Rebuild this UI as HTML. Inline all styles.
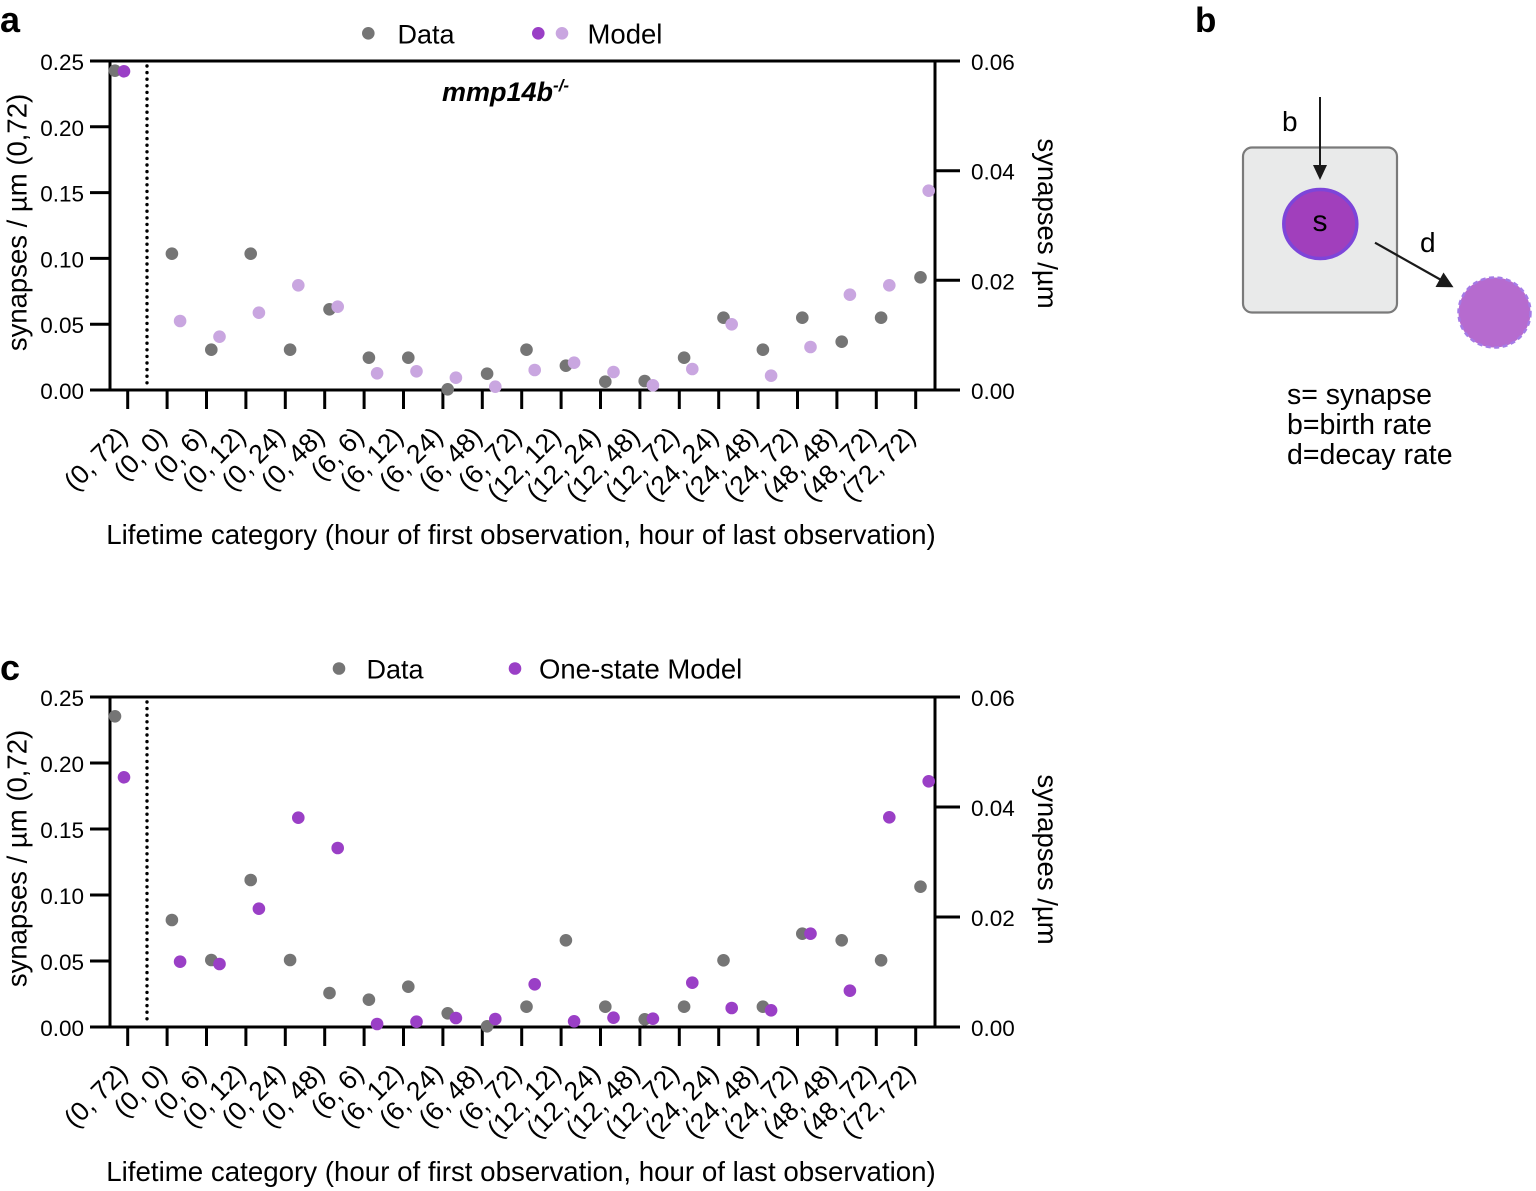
<!DOCTYPE html>
<html>
<head>
<meta charset="utf-8">
<style>
html,body{margin:0;padding:0;background:#fff;}
svg{display:block;}
text{font-family:"Liberation Sans",Arial,sans-serif;fill:#000;}
</style>
</head>
<body>
<svg width="1536" height="1191" viewBox="0 0 1536 1191" xmlns="http://www.w3.org/2000/svg">
<rect width="1536" height="1191" fill="#fff"/>

<!-- ===== Panel a ===== -->
<text x="0" y="32" font-size="36" font-weight="bold">a</text>
<!-- legend -->
<circle cx="368.3" cy="33.3" r="6.3" fill="#757575"/>
<text x="397.5" y="43.3" font-size="27">Data</text>
<circle cx="538.3" cy="33.3" r="6.3" fill="#9a3fc6"/>
<circle cx="562" cy="33.3" r="6.3" fill="#c9a6e0"/>
<text x="587.5" y="43.3" font-size="27.5">Model</text>

<g stroke="#000" stroke-width="3" fill="none">
  <line x1="90" y1="61" x2="960" y2="61"/>
  <line x1="90" y1="390" x2="960" y2="390"/>
  <line x1="110" y1="59.5" x2="110" y2="391.5"/>
  <line x1="935" y1="59.5" x2="935" y2="391.5"/>
  <line x1="90" y1="126.8" x2="110" y2="126.8"/>
  <line x1="90" y1="192.6" x2="110" y2="192.6"/>
  <line x1="90" y1="258.4" x2="110" y2="258.4"/>
  <line x1="90" y1="324.2" x2="110" y2="324.2"/>
  <line x1="935" y1="170.7" x2="960" y2="170.7"/>
  <line x1="935" y1="280.3" x2="960" y2="280.3"/>
  <line x1="127.7" y1="390" x2="127.7" y2="409"/>
  <line x1="167.1" y1="390" x2="167.1" y2="409"/>
  <line x1="206.5" y1="390" x2="206.5" y2="409"/>
  <line x1="245.9" y1="390" x2="245.9" y2="409"/>
  <line x1="285.3" y1="390" x2="285.3" y2="409"/>
  <line x1="324.7" y1="390" x2="324.7" y2="409"/>
  <line x1="364.1" y1="390" x2="364.1" y2="409"/>
  <line x1="403.5" y1="390" x2="403.5" y2="409"/>
  <line x1="442.9" y1="390" x2="442.9" y2="409"/>
  <line x1="482.3" y1="390" x2="482.3" y2="409"/>
  <line x1="521.7" y1="390" x2="521.7" y2="409"/>
  <line x1="561.1" y1="390" x2="561.1" y2="409"/>
  <line x1="600.5" y1="390" x2="600.5" y2="409"/>
  <line x1="639.9" y1="390" x2="639.9" y2="409"/>
  <line x1="679.3" y1="390" x2="679.3" y2="409"/>
  <line x1="718.7" y1="390" x2="718.7" y2="409"/>
  <line x1="758.1" y1="390" x2="758.1" y2="409"/>
  <line x1="797.5" y1="390" x2="797.5" y2="409"/>
  <line x1="836.9" y1="390" x2="836.9" y2="409"/>
  <line x1="876.3" y1="390" x2="876.3" y2="409"/>
  <line x1="915.7" y1="390" x2="915.7" y2="409"/>
</g>
<line x1="147" y1="66" x2="147" y2="388" stroke="#000" stroke-width="3.4" stroke-linecap="round" stroke-dasharray="0 6.6"/>

<g font-size="22.5" text-anchor="end">
  <text x="84" y="70">0.25</text>
  <text x="84" y="135.8">0.20</text>
  <text x="84" y="201.6">0.15</text>
  <text x="84" y="267.4">0.10</text>
  <text x="84" y="333.2">0.05</text>
  <text x="84" y="399">0.00</text>
</g>
<g font-size="22.5">
  <text x="971" y="70">0.06</text>
  <text x="971" y="179.7">0.04</text>
  <text x="971" y="289.3">0.02</text>
  <text x="971" y="399">0.00</text>
</g>
<text x="442" y="101" font-size="27" font-weight="bold" font-style="italic">mmp14b<tspan font-size="17" dy="-10">-/-</tspan></text>

<text transform="translate(26.5,222.5) rotate(-90)" text-anchor="middle" font-size="27.5">synapses / µm (0,72)</text>
<text transform="translate(1038,223.5) rotate(90)" text-anchor="middle" font-size="27.5">synapses /µm</text>

<g font-size="26.5" text-anchor="end">
  <text transform="translate(129,438) rotate(-45)">(0, 72)</text>
  <text transform="translate(168.4,438) rotate(-45)">(0, 0)</text>
  <text transform="translate(207.8,438) rotate(-45)">(0, 6)</text>
  <text transform="translate(247.2,438) rotate(-45)">(0, 12)</text>
  <text transform="translate(286.6,438) rotate(-45)">(0, 24)</text>
  <text transform="translate(326,438) rotate(-45)">(0, 48)</text>
  <text transform="translate(365.4,438) rotate(-45)">(6, 6)</text>
  <text transform="translate(404.8,438) rotate(-45)">(6, 12)</text>
  <text transform="translate(444.2,438) rotate(-45)">(6, 24)</text>
  <text transform="translate(483.6,438) rotate(-45)">(6, 48)</text>
  <text transform="translate(523,438) rotate(-45)">(6, 72)</text>
  <text transform="translate(562.4,438) rotate(-45)">(12, 12)</text>
  <text transform="translate(601.8,438) rotate(-45)">(12, 24)</text>
  <text transform="translate(641.2,438) rotate(-45)">(12, 48)</text>
  <text transform="translate(680.6,438) rotate(-45)">(12, 72)</text>
  <text transform="translate(720,438) rotate(-45)">(24, 24)</text>
  <text transform="translate(759.4,438) rotate(-45)">(24, 48)</text>
  <text transform="translate(798.8,438) rotate(-45)">(24, 72)</text>
  <text transform="translate(838.2,438) rotate(-45)">(48, 48)</text>
  <text transform="translate(877.6,438) rotate(-45)">(48, 72)</text>
  <text transform="translate(917,438) rotate(-45)">(72, 72)</text>
</g>
<text x="521" y="544" font-size="27.7" text-anchor="middle">Lifetime category (hour of first observation, hour of last observation)</text>

<!-- data a -->
<g fill="#757575">
  <circle cx="115" cy="70.7" r="6.3"/>
  <circle cx="171.9" cy="253.7" r="6.3"/>
  <circle cx="211.3" cy="349.7" r="6.3"/>
  <circle cx="250.7" cy="253.7" r="6.3"/>
  <circle cx="290.1" cy="349.7" r="6.3"/>
  <circle cx="329.5" cy="309.3" r="6.3"/>
  <circle cx="368.9" cy="357.7" r="6.3"/>
  <circle cx="408.3" cy="357.7" r="6.3"/>
  <circle cx="447.7" cy="389.3" r="6.3"/>
  <circle cx="487.1" cy="373.7" r="6.3"/>
  <circle cx="526.5" cy="349.7" r="6.3"/>
  <circle cx="565.9" cy="365.7" r="6.3"/>
  <circle cx="605.3" cy="381.7" r="6.3"/>
  <circle cx="644.7" cy="381" r="6.3"/>
  <circle cx="684.1" cy="357.7" r="6.3"/>
  <circle cx="723.5" cy="317.7" r="6.3"/>
  <circle cx="762.9" cy="349.7" r="6.3"/>
  <circle cx="802.3" cy="317.7" r="6.3"/>
  <circle cx="841.7" cy="341.7" r="6.3"/>
  <circle cx="881.1" cy="317.7" r="6.3"/>
  <circle cx="920.5" cy="277.3" r="6.3"/>
</g>
<circle cx="124" cy="71.3" r="6.3" fill="#9a3fc6"/>
<g fill="#c9a6e0">
  <circle cx="180.1" cy="321" r="6.3"/>
  <circle cx="219.5" cy="336.7" r="6.3"/>
  <circle cx="258.9" cy="312.7" r="6.3"/>
  <circle cx="298.3" cy="285.3" r="6.3"/>
  <circle cx="337.7" cy="306.7" r="6.3"/>
  <circle cx="377.1" cy="373.3" r="6.3"/>
  <circle cx="416.5" cy="371.3" r="6.3"/>
  <circle cx="455.9" cy="377.7" r="6.3"/>
  <circle cx="495.3" cy="386.7" r="6.3"/>
  <circle cx="534.7" cy="370" r="6.3"/>
  <circle cx="574.1" cy="362.7" r="6.3"/>
  <circle cx="613.5" cy="372" r="6.3"/>
  <circle cx="652.9" cy="385.3" r="6.3"/>
  <circle cx="692.3" cy="369" r="6.3"/>
  <circle cx="731.7" cy="324.3" r="6.3"/>
  <circle cx="771.1" cy="375.7" r="6.3"/>
  <circle cx="810.5" cy="347" r="6.3"/>
  <circle cx="849.9" cy="294.7" r="6.3"/>
  <circle cx="889.3" cy="285.3" r="6.3"/>
  <circle cx="928.7" cy="190.7" r="6.3"/>
</g>

<!-- ===== Panel b ===== -->
<text x="1195" y="32" font-size="35" font-weight="bold">b</text>
<rect x="1243" y="147.5" width="154" height="165" rx="9" ry="9" fill="#e9eaea" stroke="#7a7a7a" stroke-width="2.2"/>
<line x1="1320" y1="97" x2="1320" y2="168" stroke="#1a1a1a" stroke-width="2"/>
<polygon points="1313,165 1327,165 1320,180" fill="#1a1a1a"/>
<text x="1282" y="131" font-size="28">b</text>
<ellipse cx="1320.3" cy="224" rx="36.5" ry="34.5" fill="#a13fbc" stroke="#7d45d9" stroke-width="3.5"/>
<text x="1320" y="231" font-size="30" text-anchor="middle">s</text>
<line x1="1375" y1="242.7" x2="1442" y2="280.5" stroke="#1a1a1a" stroke-width="2.2"/>
<polygon points="1453.5,287.2 1435.5,287 1443.5,272.5" fill="#1a1a1a"/>
<text x="1420" y="252" font-size="28">d</text>
<ellipse cx="1494.5" cy="312.5" rx="36" ry="35" fill="#b66bcf" stroke="#a57ae6" stroke-width="2.5" stroke-dasharray="5 3.5"/>
<g font-size="28.5">
  <text x="1287" y="404">s= synapse</text>
  <text x="1287" y="434">b=birth rate</text>
  <text x="1287" y="464">d=decay rate</text>
</g>

<!-- ===== Panel c ===== -->
<text x="0" y="680" font-size="36" font-weight="bold">c</text>
<circle cx="339" cy="668.5" r="6.3" fill="#757575"/>
<text x="366.5" y="678.5" font-size="27">Data</text>
<circle cx="515" cy="668.5" r="6.3" fill="#9a3fc6"/>
<text x="539" y="678.5" font-size="27.5">One-state Model</text>

<g stroke="#000" stroke-width="3" fill="none">
  <line x1="90" y1="697" x2="960" y2="697"/>
  <line x1="90" y1="1027" x2="960" y2="1027"/>
  <line x1="110" y1="695.5" x2="110" y2="1028.5"/>
  <line x1="935" y1="695.5" x2="935" y2="1028.5"/>
  <line x1="90" y1="763" x2="110" y2="763"/>
  <line x1="90" y1="829" x2="110" y2="829"/>
  <line x1="90" y1="895" x2="110" y2="895"/>
  <line x1="90" y1="961" x2="110" y2="961"/>
  <line x1="935" y1="807" x2="960" y2="807"/>
  <line x1="935" y1="917" x2="960" y2="917"/>
  <line x1="127.7" y1="1027" x2="127.7" y2="1046"/>
  <line x1="167.1" y1="1027" x2="167.1" y2="1046"/>
  <line x1="206.5" y1="1027" x2="206.5" y2="1046"/>
  <line x1="245.9" y1="1027" x2="245.9" y2="1046"/>
  <line x1="285.3" y1="1027" x2="285.3" y2="1046"/>
  <line x1="324.7" y1="1027" x2="324.7" y2="1046"/>
  <line x1="364.1" y1="1027" x2="364.1" y2="1046"/>
  <line x1="403.5" y1="1027" x2="403.5" y2="1046"/>
  <line x1="442.9" y1="1027" x2="442.9" y2="1046"/>
  <line x1="482.3" y1="1027" x2="482.3" y2="1046"/>
  <line x1="521.7" y1="1027" x2="521.7" y2="1046"/>
  <line x1="561.1" y1="1027" x2="561.1" y2="1046"/>
  <line x1="600.5" y1="1027" x2="600.5" y2="1046"/>
  <line x1="639.9" y1="1027" x2="639.9" y2="1046"/>
  <line x1="679.3" y1="1027" x2="679.3" y2="1046"/>
  <line x1="718.7" y1="1027" x2="718.7" y2="1046"/>
  <line x1="758.1" y1="1027" x2="758.1" y2="1046"/>
  <line x1="797.5" y1="1027" x2="797.5" y2="1046"/>
  <line x1="836.9" y1="1027" x2="836.9" y2="1046"/>
  <line x1="876.3" y1="1027" x2="876.3" y2="1046"/>
  <line x1="915.7" y1="1027" x2="915.7" y2="1046"/>
</g>
<line x1="147" y1="702" x2="147" y2="1025" stroke="#000" stroke-width="3.4" stroke-linecap="round" stroke-dasharray="0 6.6"/>

<g font-size="22.5" text-anchor="end">
  <text x="84" y="706">0.25</text>
  <text x="84" y="772">0.20</text>
  <text x="84" y="838">0.15</text>
  <text x="84" y="904">0.10</text>
  <text x="84" y="970">0.05</text>
  <text x="84" y="1036">0.00</text>
</g>
<g font-size="22.5">
  <text x="971" y="706">0.06</text>
  <text x="971" y="816">0.04</text>
  <text x="971" y="926">0.02</text>
  <text x="971" y="1036">0.00</text>
</g>

<text transform="translate(26.5,858.5) rotate(-90)" text-anchor="middle" font-size="27.5">synapses / µm (0,72)</text>
<text transform="translate(1038,859.5) rotate(90)" text-anchor="middle" font-size="27.5">synapses /µm</text>

<g font-size="26.5" text-anchor="end">
  <text transform="translate(129,1075) rotate(-45)">(0, 72)</text>
  <text transform="translate(168.4,1075) rotate(-45)">(0, 0)</text>
  <text transform="translate(207.8,1075) rotate(-45)">(0, 6)</text>
  <text transform="translate(247.2,1075) rotate(-45)">(0, 12)</text>
  <text transform="translate(286.6,1075) rotate(-45)">(0, 24)</text>
  <text transform="translate(326,1075) rotate(-45)">(0, 48)</text>
  <text transform="translate(365.4,1075) rotate(-45)">(6, 6)</text>
  <text transform="translate(404.8,1075) rotate(-45)">(6, 12)</text>
  <text transform="translate(444.2,1075) rotate(-45)">(6, 24)</text>
  <text transform="translate(483.6,1075) rotate(-45)">(6, 48)</text>
  <text transform="translate(523,1075) rotate(-45)">(6, 72)</text>
  <text transform="translate(562.4,1075) rotate(-45)">(12, 12)</text>
  <text transform="translate(601.8,1075) rotate(-45)">(12, 24)</text>
  <text transform="translate(641.2,1075) rotate(-45)">(12, 48)</text>
  <text transform="translate(680.6,1075) rotate(-45)">(12, 72)</text>
  <text transform="translate(720,1075) rotate(-45)">(24, 24)</text>
  <text transform="translate(759.4,1075) rotate(-45)">(24, 48)</text>
  <text transform="translate(798.8,1075) rotate(-45)">(24, 72)</text>
  <text transform="translate(838.2,1075) rotate(-45)">(48, 48)</text>
  <text transform="translate(877.6,1075) rotate(-45)">(48, 72)</text>
  <text transform="translate(917,1075) rotate(-45)">(72, 72)</text>
</g>
<text x="521" y="1181" font-size="27.7" text-anchor="middle">Lifetime category (hour of first observation, hour of last observation)</text>

<!-- data c -->
<g fill="#757575">
  <circle cx="115" cy="716.3" r="6.3"/>
  <circle cx="171.9" cy="920" r="6.3"/>
  <circle cx="211.3" cy="960" r="6.3"/>
  <circle cx="250.7" cy="880" r="6.3"/>
  <circle cx="290.1" cy="960" r="6.3"/>
  <circle cx="329.5" cy="993" r="6.3"/>
  <circle cx="368.9" cy="999.7" r="6.3"/>
  <circle cx="408.3" cy="986.7" r="6.3"/>
  <circle cx="447.7" cy="1013.3" r="6.3"/>
  <circle cx="487.1" cy="1026.3" r="6.3"/>
  <circle cx="526.5" cy="1006.7" r="6.3"/>
  <circle cx="565.9" cy="940.3" r="6.3"/>
  <circle cx="605.3" cy="1006.7" r="6.3"/>
  <circle cx="644.7" cy="1019.3" r="6.3"/>
  <circle cx="684.1" cy="1006.7" r="6.3"/>
  <circle cx="723.5" cy="960.3" r="6.3"/>
  <circle cx="762.9" cy="1006.7" r="6.3"/>
  <circle cx="802.3" cy="933.7" r="6.3"/>
  <circle cx="841.7" cy="940.3" r="6.3"/>
  <circle cx="881.1" cy="960.3" r="6.3"/>
  <circle cx="920.5" cy="886.7" r="6.3"/>
</g>
<g fill="#9a3fc6">
  <circle cx="124" cy="777.3" r="6.3"/>
  <circle cx="180.1" cy="961.7" r="6.3"/>
  <circle cx="219.5" cy="964" r="6.3"/>
  <circle cx="258.9" cy="908.7" r="6.3"/>
  <circle cx="298.3" cy="817.7" r="6.3"/>
  <circle cx="337.7" cy="848" r="6.3"/>
  <circle cx="377.1" cy="1024" r="6.3"/>
  <circle cx="416.5" cy="1021.7" r="6.3"/>
  <circle cx="455.9" cy="1018" r="6.3"/>
  <circle cx="495.3" cy="1019" r="6.3"/>
  <circle cx="534.7" cy="984.3" r="6.3"/>
  <circle cx="574.1" cy="1021.3" r="6.3"/>
  <circle cx="613.5" cy="1017.7" r="6.3"/>
  <circle cx="652.9" cy="1018.7" r="6.3"/>
  <circle cx="692.3" cy="982.7" r="6.3"/>
  <circle cx="731.7" cy="1008" r="6.3"/>
  <circle cx="771.1" cy="1010.3" r="6.3"/>
  <circle cx="810.5" cy="933.7" r="6.3"/>
  <circle cx="849.9" cy="990.7" r="6.3"/>
  <circle cx="889.3" cy="817.3" r="6.3"/>
  <circle cx="928.7" cy="781.3" r="6.3"/>
</g>
</svg>
</body>
</html>
